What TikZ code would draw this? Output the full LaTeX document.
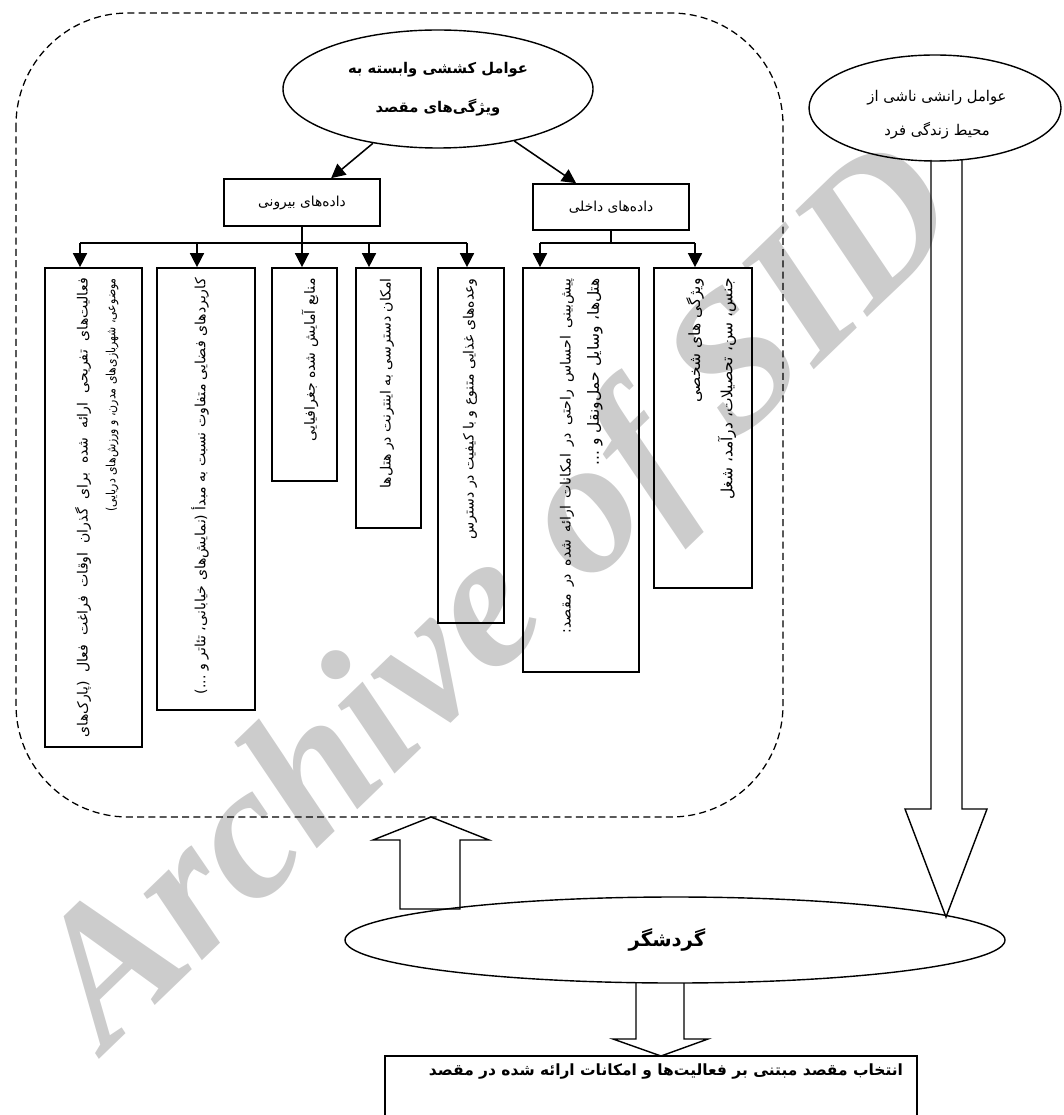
\documentclass[tikz,border=0pt]{standalone}
\usepackage{fontspec}
\usetikzlibrary{arrows.meta,shapes.geometric}
\TeXXeTstate=1
\newfontfamily\fafont[Script=Arabic]{DejaVu Sans}
\newfontfamily\wmfont{Liberation Serif}
\newlength\px
\setlength\px{0.025cm}
\newcommand\fa[1]{\beginR #1\endR}
\tikzset{
  oval/.style={ellipse, draw, line width=1pt, inner sep=0pt},
  databox/.style={draw, line width=1.2pt, inner sep=0pt, font=\fafont\fontsize{9.8}{11}\selectfont},
  vbox/.style={draw, line width=1.2pt, inner sep=0pt},
  vtext/.style={rotate=90, anchor=east, inner sep=0pt, font=\fafont\fontsize{10}{12}\selectfont},
  vbig/.style={vtext, font=\fafont\fontsize{11}{13}\selectfont},
  arr/.style={line width=1.1pt, -{Triangle[width=10pt,length=10pt]}},
  bus/.style={line width=1.1pt},
  hollow/.style={draw, line width=1pt, line join=miter},
  wm/.style={text=black!20, rotate=44, inner sep=0pt, font=\wmfont\bfseries\itshape\fontsize{137}{145}\selectfont}
}
\begin{document}
\begin{tikzpicture}[x=0.025cm,y=-0.025cm]
\useasboundingbox (0,0) rectangle (1063,1115);
% watermark
\node[wm] (mark) at (505,602) {Archive of SID};

% dashed frame round the pull factors
\draw[line width=0.9pt, dash pattern=on 5pt off 3pt, rounded corners=2.8cm] (16,13) rectangle (783,817);

% ovals
\node[oval, minimum width=310\px, minimum height=118\px, align=center,
  font=\fafont\bfseries\fontsize{10.5}{28}\selectfont] (pull) at (438,89)
  {\fa{عوامل کششی وابسته به}\\\fa{ویژگی‌های مقصد}};
\node[oval, minimum width=252\px, minimum height=106\px] (push) at (935,108) {};
\node[align=center, inner sep=0pt, font=\fafont\fontsize{10.5}{24}\selectfont] (pushlbl) at (937,115)
  {\fa{عوامل رانشی ناشی از}\\\fa{محیط زندگی فرد}};
\node[oval, minimum width=660\px, minimum height=86\px] (gard) at (675,940) {};
\node[inner sep=0pt, font=\fafont\bfseries\fontsize{14}{17}\selectfont] (gardlbl) at (667,940) {\fa{گردشگر}};

% data boxes
\node[databox, minimum width=156\px, minimum height=47\px] (ext) at (302,202.5) {\fa{داده‌های بیرونی}};
\node[databox, minimum width=156\px, minimum height=46\px] (int) at (611,207) {\fa{داده‌های داخلی}};

% vertical boxes
\node[vbox, minimum width=97\px, minimum height=479\px] (b1) at (93.5,507.5) {};
\node[vbox, minimum width=98\px, minimum height=442\px] (b2) at (206,489) {};
\node[vbox, minimum width=65\px, minimum height=213\px] (b3) at (304.5,374.5) {};
\node[vbox, minimum width=65\px, minimum height=260\px] (b4) at (388.5,398) {};
\node[vbox, minimum width=66\px, minimum height=355\px] (b5) at (471,445.5) {};
\node[vbox, minimum width=116\px, minimum height=404\px] (b6) at (581,470) {};
\node[vbox, minimum width=98\px, minimum height=320\px] (b7) at (703,428) {};

\node[vtext] (t1a) at (83,278) {\makebox[459\px][s]{\fa{فعالیت‌های تفریحی ارائه شده برای گذران اوقات فراغت فعال (پارک‌های}}};
\node[vtext, font=\fafont\fontsize{9}{11}\selectfont] (t1b) at (112,278) {\scalebox{0.86}[1]{\fa{موضوعی، شهربازی‌های مدرن، و ورزش‌های دریایی)}}};
\node[vtext] (t2) at (200,278) {\fa{کاربردهای فضایی متفاوت نسبت به مبدأ (نمایش‌های خیابانی، تئاتر و ...)}};
\node[vtext] (t3) at (310,278) {\fa{منابع آمایش شده جغرافیایی}};
\node[vtext] (t4) at (387,278) {\fa{امکان دسترسی به اینترنت در هتل‌ها}};
\node[vtext] (t5) at (470,278) {\fa{وعده‌های غذایی متنوع و با کیفیت در دسترس}};
\node[vtext] (t6a) at (567,278) {\makebox[355\px][s]{\fa{پیش‌بینی احساس راحتی در امکانات ارائه شده در مقصد:}}};
\node[vbig] (t6b) at (595,278) {\fa{هتل‌ها، وسایل حمل‌ونقل و ...}};
\node[vbig] (t7a) at (695,278) {\fa{ویژگی های شخصی}};
\node[vbig] (t7b) at (727,278) {\fa{جنس، سن، تحصیلات، درآمد، شغل}};

% choice box
\node[draw, line width=1.2pt, minimum width=532\px, minimum height=74\px] (choice) at (651,1093) {};
\node[inner sep=0pt, font=\fafont\bfseries\fontsize{11}{13}\selectfont] (choicelbl) at (666,1071)
  {\fa{انتخاب مقصد مبتنی بر فعالیت‌ها و امکانات ارائه شده در مقصد}};

% connectors
\draw[arr] (pull) -- (ext);
\draw[arr] (pull) -- (int);
\coordinate (e1) at (80,243);
\coordinate (e2) at (197,243);
\coordinate (e4) at (369,243);
\coordinate (e5) at (467,243);
\draw[bus] (e1) -- (e5);
\draw[arr] (ext.south) -- (ext.south |- b3.north);
\foreach \c/\b in {e1/b1,e2/b2,e4/b4,e5/b5}
  \draw[arr] (\c) -- (\c |- \b.north);
\coordinate (i1) at (540,243);
\coordinate (i2) at (695,243);
\draw[bus] (i1) -- (i2);
\draw[bus] (int.south) -- (int.south |- i1);
\foreach \c/\b in {i1/b6,i2/b7}
  \draw[arr] (\c) -- (\c |- \b.north);

% block arrows
\draw[hollow] (400,909) -- (400,840) -- (373,840) -- (431,817) -- (489,840) -- (460,840) -- (460,909) -- cycle;
\draw[hollow] (931,160) -- (931,809) -- (905,809) -- (946,917) -- (987,809) -- (962,809) -- (962,160);
\draw[hollow] (636,983) -- (636,1039) -- (613,1039) -- (661,1056) -- (708,1039) -- (684,1039) -- (684,983);
\end{tikzpicture}
\end{document}
